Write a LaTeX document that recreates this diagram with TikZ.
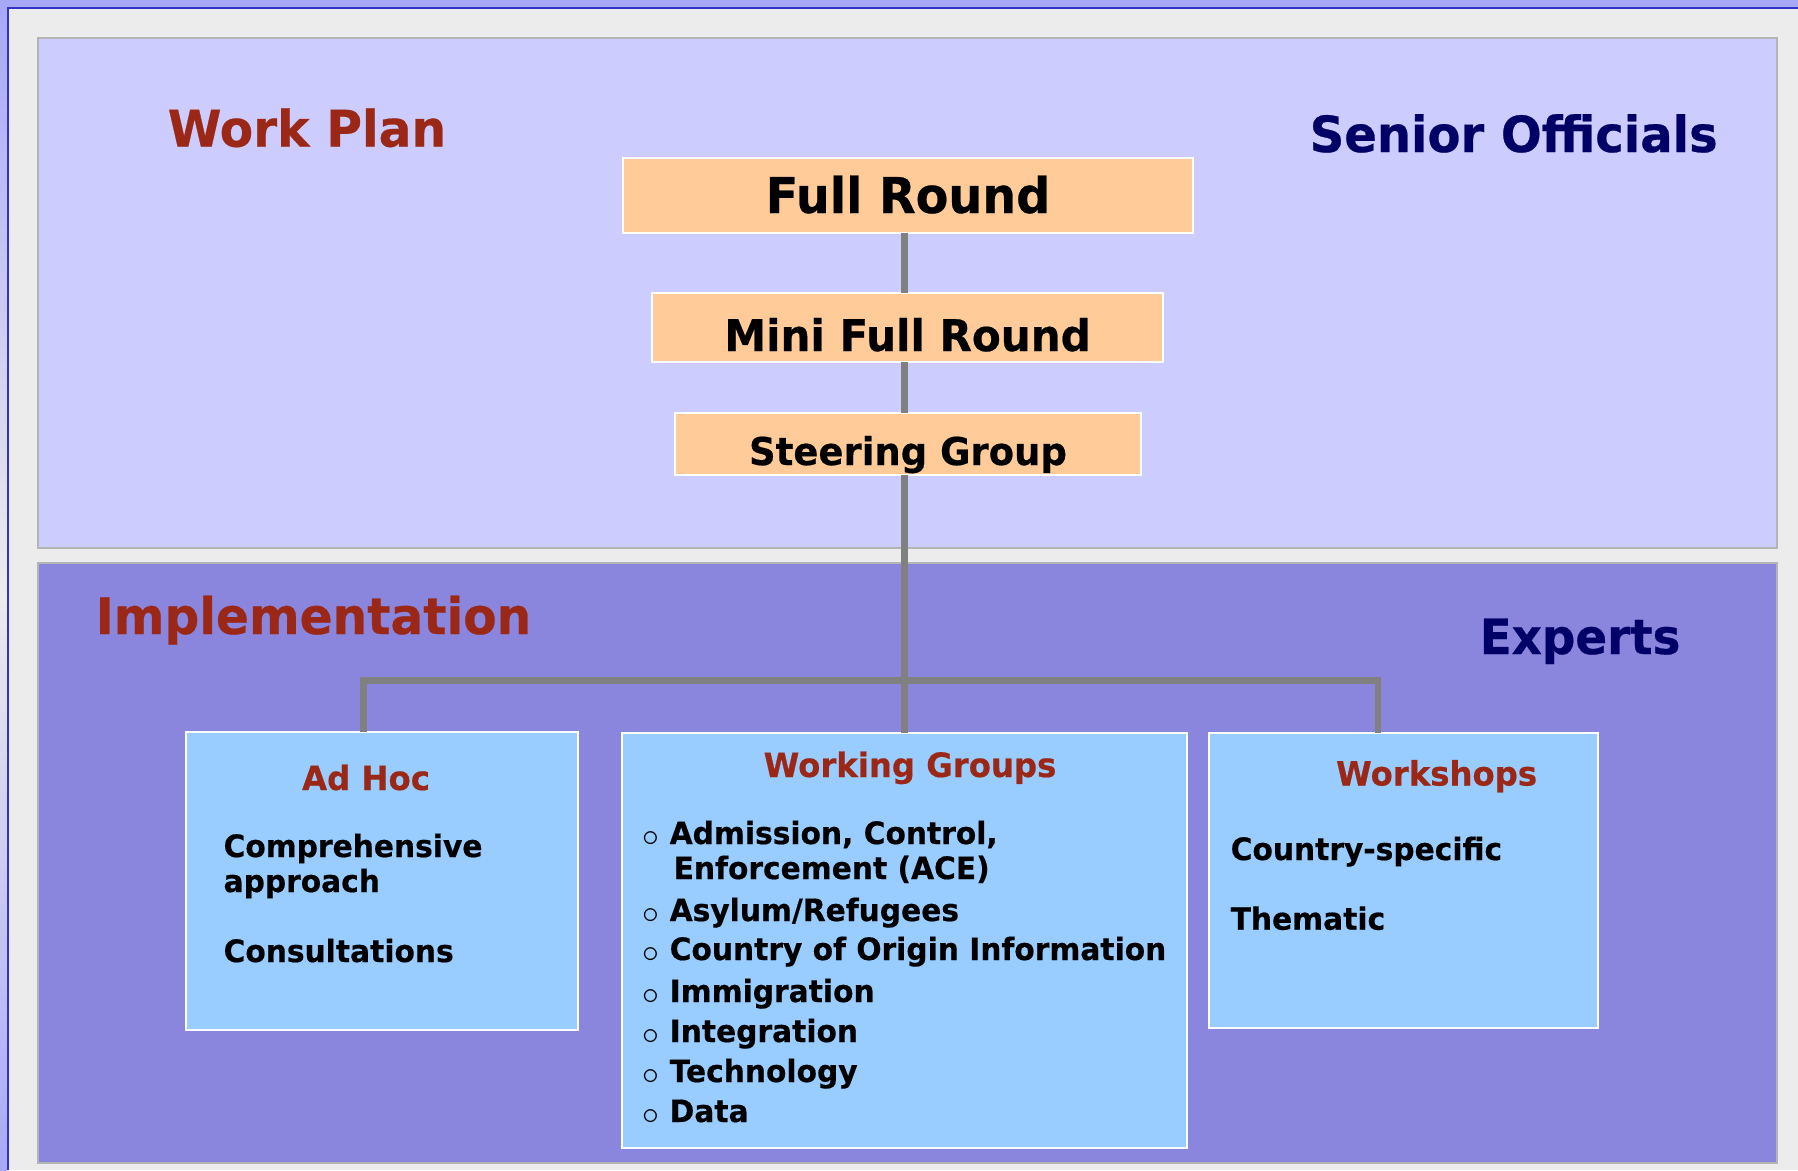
\documentclass[tikz,border=0pt]{standalone}
\usepackage{graphicx}
\usepackage{fontspec}
\setmainfont{DejaVu Sans}[Scale=1.05, BoldFeatures={FakeStretch=0.965,FakeBold=0.5}]
\usetikzlibrary{calc}

\definecolor{pagegray}{RGB}{236,236,236}
\definecolor{stripblue}{RGB}{168,168,248}
\definecolor{frameblue}{RGB}{51,51,204}
\definecolor{panelline}{RGB}{180,180,180}
\definecolor{planfill}{RGB}{204,204,255}
\definecolor{implfill}{RGB}{138,133,221}
\definecolor{roundfill}{RGB}{255,204,153}
\definecolor{groupfill}{RGB}{153,204,255}
\definecolor{titlered}{RGB}{155,40,22}
\definecolor{titlenavy}{RGB}{0,0,102}
\definecolor{linkgray}{RGB}{128,128,128}

\newcommand{\wgbullet}{\makebox[27.5pt][l]{\raisebox{-2pt}{\scalebox{1.35}{$\circ$}}}}

\tikzset{
  panel/.style={draw=panelline, line width=2pt, anchor=north west, inner sep=0pt, outer sep=0pt, minimum width=1739pt},
  roundbox/.style={draw=white, line width=2pt, fill=roundfill, inner sep=0pt, outer sep=0pt, text depth=0pt},
  groupbox/.style={draw=white, line width=2pt, fill=groupfill, anchor=north west, inner sep=0pt, outer sep=0pt},
  heading/.style={anchor=base west, inner sep=0pt, font=\fontsize{48}{58}\selectfont\bfseries},
  grouptitle/.style={anchor=base, inner sep=0pt, text=titlered, font=\fontsize{31.9}{38}\selectfont\bfseries},
  entry/.style={anchor=base west, inner sep=0pt, font=\fontsize{29.3}{35}\selectfont\bfseries},
  link/.style={draw=linkgray, line width=6.5pt},
}

\begin{document}
\begin{tikzpicture}[x=1pt,y=-1pt]
  \useasboundingbox (0,0) rectangle (1798,1170);
  \fill[stripblue] (0,0) rectangle (1798,1170);
  \shade[top color=stripblue, bottom color=stripblue, middle color=pagegray] (0,9) rectangle (7,1170);
  \fill[pagegray] (9,9) rectangle (1798,1170);
  \draw[frameblue, line width=2pt] (8,1170) -- (8,8) -- (1798,8);

  \node[panel, fill=planfill, minimum height=510pt] (plan) at (38,38) {};
  \node[panel, fill=implfill, minimum height=600.5pt] (impl) at (38,562.5) {};

  \node[heading, text=titlered] (workplan) at (167.6,146.6) {Work Plan};
  \node[heading, text=titlenavy, font=\fontsize{47.4}{57}\selectfont\bfseries] (senior) at (1309.5,152) {Senior Officials};
  \node[heading, text=titlered] (implement) at (95.5,634) {Implementation};
  \node[heading, text=titlenavy, font=\fontsize{46.2}{55}\selectfont\bfseries] (experts) at (1479.5,654) {Experts};

  \node[roundbox, minimum width=570pt, minimum height=75pt, text height=35pt, font=\fontsize{47}{56}\selectfont\bfseries] (full) at (908,195.5) {Full Round};
  \node[roundbox, minimum width=511pt, minimum height=69pt, text height=47pt, font=\fontsize{41.5}{50}\selectfont\bfseries] (mini) at (907.5,327.5) {Mini Full Round};
  \node[roundbox, minimum width=466pt, minimum height=62pt, text height=42pt, font=\fontsize{36.5}{44}\selectfont\bfseries] (steering) at (908,444) {Steering Group};

  \node[groupbox, minimum width=392pt, minimum height=298pt] (adhoc) at (186,732) {};
  \node[groupbox, minimum width=565pt, minimum height=415pt] (wgroups) at (622,733) {};
  \node[groupbox, minimum width=389pt, minimum height=295pt] (workshops) at (1209,733) {};

  \draw[link] (full.south -| wgroups.north) -- (mini.north -| wgroups.north);
  \draw[link] (mini.south -| wgroups.north) -- (steering.north -| wgroups.north);
  \draw[link] (steering.south -| wgroups.north) -- (wgroups.north);
  \coordinate (fork) at ($(wgroups.north)+(0,-52.5)$);
  \draw[link] ([xshift=-18.5pt]adhoc.north) |- (fork) -| ([xshift=-25.5pt]workshops.north);

  \node[grouptitle] (adhoctitle) at (366,790) {Ad Hoc};
  \node[entry] (compr) at (223.4,857) {Comprehensive};
  \node[entry] (approach) at (223.4,892) {approach};
  \node[entry] (consult) at (223.4,962) {Consultations};

  \node[grouptitle] (wgtitle) at (910,777) {Working Groups};
  \node[entry] (ace) at (642,844) {\wgbullet Admission, Control,};
  \node[entry] (acetwo) at (673.5,879) {Enforcement (ACE)};
  \node[entry] (asylum) at (642,921) {\wgbullet Asylum/Refugees};
  \node[entry] (coi) at (642,960) {\wgbullet Country of Origin Information};
  \node[entry] (immig) at (642,1002) {\wgbullet Immigration};
  \node[entry] (integr) at (642,1042) {\wgbullet Integration};
  \node[entry] (techn) at (642,1082) {\wgbullet Technology};
  \node[entry] (data) at (642,1122) {\wgbullet Data};

  \node[grouptitle] (wstitle) at (1436.6,785.5) {Workshops};
  \node[entry] (country) at (1230.5,860) {Country-specific};
  \node[entry] (thematic) at (1230.5,929.7) {Thematic};
\end{tikzpicture}
\end{document}
